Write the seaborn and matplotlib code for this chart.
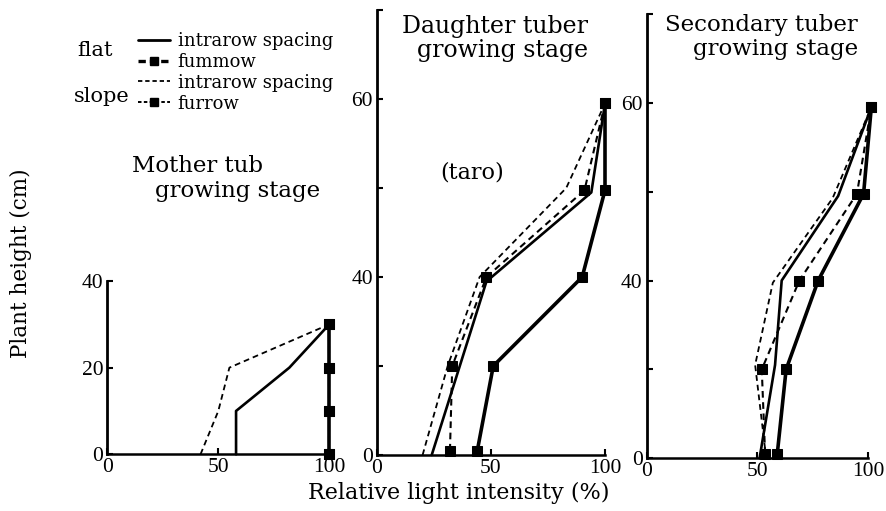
import matplotlib
matplotlib.use("Agg")
import matplotlib.pyplot as plt
from matplotlib.lines import Line2D
import seaborn as sns

# ---- measured light profiles: relative light intensity (%) vs plant height (cm) ----
# Mother tuber growing stage
mother_flat_intra_x = [58, 58, 82, 100]
mother_flat_intra_y = [0, 10, 20, 30]
mother_flat_furrow_x = [100, 100, 100, 100]
mother_flat_furrow_y = [0, 10, 20, 30]
mother_slope_intra_x = [42, 50, 55, 100]
mother_slope_intra_y = [0, 10, 20, 30]
mother_slope_furrow_x = [100, 100, 100, 100]
mother_slope_furrow_y = [0, 10, 20, 30]

# Daughter tuber growing stage
daughter_flat_intra_x = [24, 48, 94, 100]
daughter_flat_intra_y = [0, 39, 59, 79]
daughter_flat_furrow_x = [44, 51, 90, 100, 100]
daughter_flat_furrow_y = [1, 20, 40, 59.5, 79]
daughter_slope_intra_x = [20, 31, 45, 83, 100]
daughter_slope_intra_y = [0, 20, 40, 60, 79]
daughter_slope_furrow_x = [32, 33, 48, 91, 100]
daughter_slope_furrow_y = [1, 20, 40, 59.5, 79]

# Secondary tuber growing stage
second_flat_intra_x = [51, 58, 61, 86.5, 101.5]
second_flat_intra_y = [0, 21, 40, 59, 79]
second_flat_furrow_x = [59, 63, 77.5, 98, 101.5]
second_flat_furrow_y = [1, 20, 40, 59.5, 79]
second_slope_intra_x = [54, 49, 57, 84, 101.5]
second_slope_intra_y = [0, 21, 39.5, 58.5, 79]
second_slope_furrow_x = [53.5, 52, 69, 95, 101.5]
second_slope_furrow_y = [1, 20, 40, 59.5, 79]

x_ticks = [0, 50, 100]
x_tick_labels = ["0", "50", "100"]
mother_y_ticks = [0, 20, 40]
mother_y_labels = ["0", "20", "40"]
later_y_ticks = [0, 20, 40, 60, 80, 100]
later_y_labels = ["0", "", "40", "", "60", ""]

legend_labels = ["intrarow spacing", "fummow", "intrarow spacing", "furrow"]

sns.set_theme(style="white")
plt.rcParams["font.family"] = ["Liberation Serif", "DejaVu Serif"]
plt.rcParams["text.color"] = "black"
TEXT_FONT = "DejaVu Serif"

W, H = 887, 511
fig = plt.figure(figsize=(W / 100, H / 100), dpi=100)
fig.patch.set_facecolor("white")


def px_box(left, right, bottom, top):
    return [left / W, (H - bottom) / H, (right - left) / W, (bottom - top) / H]


ax1 = fig.add_axes(px_box(107.3, 329.3, 454.3, 281.0))
ax2 = fig.add_axes(px_box(377.0, 605.0, 455.0, 10.0))
ax3 = fig.add_axes(px_box(646.7, 868.0, 458.3, 13.8))

STYLES = {
    "flat_intra": dict(linestyle="-", linewidth=1.9),
    "flat_furrow": dict(linestyle="-", linewidth=2.6, marker="s", markersize=6.5),
    "slope_intra": dict(linestyle=(0, (3.2, 2.2)), linewidth=1.3),
    "slope_furrow": dict(linestyle=(0, (3.2, 2.2)), linewidth=1.5, marker="s", markersize=6.5),
}


def draw(ax, key, xs, ys):
    sns.lineplot(x=xs, y=ys, ax=ax, orient="y", estimator=None, color="black",
                 markeredgecolor="black", markerfacecolor="black",
                 clip_on=False, **STYLES[key])


panels = [
    (ax1, [("flat_intra", mother_flat_intra_x, mother_flat_intra_y),
           ("slope_intra", mother_slope_intra_x, mother_slope_intra_y),
           ("slope_furrow", mother_slope_furrow_x, mother_slope_furrow_y),
           ("flat_furrow", mother_flat_furrow_x, mother_flat_furrow_y)]),
    (ax2, [("flat_intra", daughter_flat_intra_x, daughter_flat_intra_y),
           ("slope_intra", daughter_slope_intra_x, daughter_slope_intra_y),
           ("slope_furrow", daughter_slope_furrow_x, daughter_slope_furrow_y),
           ("flat_furrow", daughter_flat_furrow_x, daughter_flat_furrow_y)]),
    (ax3, [("flat_intra", second_flat_intra_x, second_flat_intra_y),
           ("slope_intra", second_slope_intra_x, second_slope_intra_y),
           ("slope_furrow", second_slope_furrow_x, second_slope_furrow_y),
           ("flat_furrow", second_flat_furrow_x, second_flat_furrow_y)]),
]

for ax, series in panels:
    for key, xs, ys in series:
        draw(ax, key, xs, ys)

for ax in (ax1, ax2, ax3):
    ax.set_facecolor("none")
    ax.set_xlim(0, 100)
    ax.set_xticks(x_ticks)
    ax.set_xticklabels(x_tick_labels)
    for side in ("top", "right"):
        ax.spines[side].set_visible(False)
    ax.spines["left"].set_linewidth(2.0)
    ax.spines["bottom"].set_linewidth(1.8)
    ax.spines["left"].set_color("black")
    ax.spines["bottom"].set_color("black")
    ax.tick_params(axis="both", direction="in", length=4, width=1.5, colors="black",
                   labelsize=15.5, pad=3, left=True, bottom=True)
    ax.set_xlabel("")
    ax.set_ylabel("")
    ax.grid(False)

ax1.set_ylim(0, 40)
ax1.set_yticks(mother_y_ticks)
ax1.set_yticklabels(mother_y_labels)
for ax in (ax2, ax3):
    ax.set_ylim(0, 100)
    ax.set_yticks(later_y_ticks)
    ax.set_yticklabels(later_y_labels)


def ftext(x, y, s, **kw):
    kw.setdefault("family", TEXT_FONT)
    fig.text(x / W, 1 - y / H, s, **kw)


# panel captions
ftext(132, 171.5, "Mother tub", fontsize=16.5, va="baseline", ha="left")
ftext(155, 196.5, "growing stage", fontsize=16.5, va="baseline", ha="left")
ftext(588, 33, "Daughter tuber", fontsize=17, va="baseline", ha="right")
ftext(588, 56.5, "growing stage", fontsize=17, va="baseline", ha="right")
ftext(472, 172, "(taro)", fontsize=16, va="center", ha="center")
ftext(858, 31.5, "Secondary tuber", fontsize=16.5, va="baseline", ha="right")
ftext(858, 55, "growing stage", fontsize=16.5, va="baseline", ha="right")

# axis titles
ftext(21, 263, "Plant height (cm)", fontsize=15.5, rotation=90, va="center", ha="center")
ftext(459, 493, "Relative light intensity (%)", fontsize=16, va="center", ha="center")

# legend with its group labels
handles = [
    Line2D([], [], color="black", lw=2.0, ls="-"),
    Line2D([], [], color="black", lw=2.4, ls=(0, (2.2, 1.2)), marker="s", markersize=6),
    Line2D([], [], color="black", lw=1.3, ls=(0, (2.4, 1.6))),
    Line2D([], [], color="black", lw=1.4, ls=(0, (1.8, 1.2)), marker="s", markersize=6),
]
fig.legend(handles, legend_labels, loc="upper left",
           bbox_to_anchor=(138 / W, 1 - 32 / H), frameon=False,
           prop={"family": TEXT_FONT, "size": 13}, handlelength=1.75,
           handletextpad=0.45, labelspacing=0.16, borderpad=0,
           borderaxespad=0, numpoints=1)
ftext(95, 50, "flat", fontsize=15, va="center", ha="center")
ftext(102, 97, "slope", fontsize=15, va="center", ha="center")

fig.savefig("out.png", dpi=100, facecolor="white")
